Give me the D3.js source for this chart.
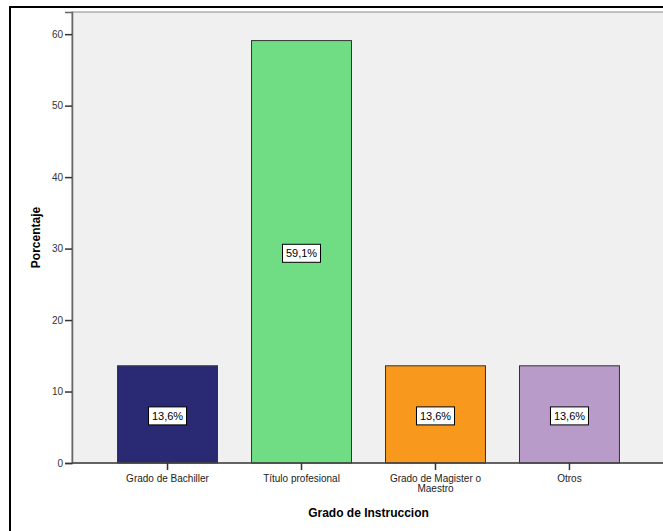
<!DOCTYPE html>
<html>
<head>
<meta charset="utf-8">
<script src="https://cdn.jsdelivr.net/npm/d3@7"></script>
<style>
html,body{margin:0;padding:0;background:#fff;}
svg{display:block;}
text{font-family:"Liberation Sans",Arial,sans-serif;}
</style>
</head>
<body>
<svg id="chart" width="663" height="531"></svg>
<script>
const categories = ["Grado de Bachiller", "Título profesional", "Grado de Magister o Maestro", "Otros"];
const catLines = [["Grado de Bachiller"], ["Título profesional"], ["Grado de Magister o", "Maestro"], ["Otros"]];
const values = [13.6, 59.1, 13.6, 13.6];
const valueLabels = ["13,6%", "59,1%", "13,6%", "13,6%"];
const colors = ["#292a73", "#70dd85", "#f8981d", "#b89bc9"];
const yTicks = [0, 10, 20, 30, 40, 50, 60];

(function () {
const svg = d3.select("#chart");
const pL = 72, pR = 665, pT = 12, pB = 463;

// outer frame
svg.append("rect").attr("x", 10).attr("y", 7).attr("width", 700).attr("height", 600)
  .attr("fill", "#fff").attr("stroke", "#000").attr("stroke-width", 2);

// plot background
svg.append("rect").attr("x", pL).attr("y", pT).attr("width", pR - pL).attr("height", pB - pT)
  .attr("fill", "#f0f0f0").attr("stroke", "#888").attr("stroke-width", 1);

const y = d3.scaleLinear().domain([0, 63.1]).range([pB, pT]);
const x = d3.scaleBand().domain(categories).range([pL, pR]).paddingInner(0.254).paddingOuter(0.34);

// bars
svg.append("g").selectAll("rect").data(values).join("rect")
  .attr("x", (d, i) => x(categories[i]))
  .attr("y", d => y(d))
  .attr("width", x.bandwidth())
  .attr("height", d => y(0) - y(d))
  .attr("fill", (d, i) => colors[i])
  .attr("stroke", "#333").attr("stroke-width", 1);

// value labels
const lab = svg.append("g").selectAll("g").data(values).join("g")
  .attr("transform", (d, i) => `translate(${x(categories[i]) + x.bandwidth() / 2},${y(d / 2) + 1.5})`);
lab.append("rect").attr("x", -19).attr("y", -9).attr("width", 38).attr("height", 18)
  .attr("fill", "#fff").attr("stroke", "#000").attr("stroke-width", 1);
lab.append("text").attr("text-anchor", "middle").attr("dy", "0.35em")
  .attr("font-size", 11).attr("fill", "#000")
  .text((d, i) => valueLabels[i]);

// y axis
const yAxis = d3.axisLeft(y).tickValues(yTicks).tickSize(7).tickPadding(2).tickFormat(d3.format("d"));
const ga = svg.append("g").attr("transform", `translate(${pL},0)`).call(yAxis);
ga.select(".domain").attr("stroke", "#666").attr("stroke-width", 1.5);
ga.selectAll(".tick line").attr("stroke", "#333").attr("stroke-width", 1.5);
ga.selectAll(".tick text").attr("font-size", 10).attr("fill", "#333")
  .style("font-family", "'Liberation Sans',Arial,sans-serif");

// x axis
const xAxis = d3.axisBottom(x).tickSize(7).tickFormat("");
const gx = svg.append("g").attr("transform", `translate(0,${pB})`).call(xAxis);
gx.select(".domain").attr("stroke", "#444").attr("stroke-width", 1.5).attr("d", `M${pL},0H${pR}`);
gx.selectAll(".tick line").attr("stroke", "#333").attr("stroke-width", 1.5);

const xl = svg.append("g").selectAll("text").data(categories).join("text")
  .attr("x", d => x(d) + x.bandwidth() / 2)
  .attr("y", 482)
  .attr("text-anchor", "middle")
  .attr("font-size", 10).attr("fill", "#222");
xl.each(function(d, i) {
  const t = d3.select(this);
  catLines[i].forEach((ln, j) => {
    t.append("tspan").attr("x", x(d) + x.bandwidth() / 2).attr("dy", j === 0 ? 0 : 10).text(ln);
  });
});

// axis titles
svg.append("text").attr("x", (pL + pR) / 2).attr("y", 517).attr("text-anchor", "middle")
  .attr("font-size", 12).attr("font-weight", "bold").attr("fill", "#000").text("Grado de Instruccion");
svg.append("text").attr("transform", `translate(40,${(pT + pB) / 2}) rotate(-90)`)
  .attr("text-anchor", "middle").attr("font-size", 12).attr("font-weight", "bold").attr("fill", "#000")
  .text("Porcentaje");
})();
</script>
</body>
</html>
